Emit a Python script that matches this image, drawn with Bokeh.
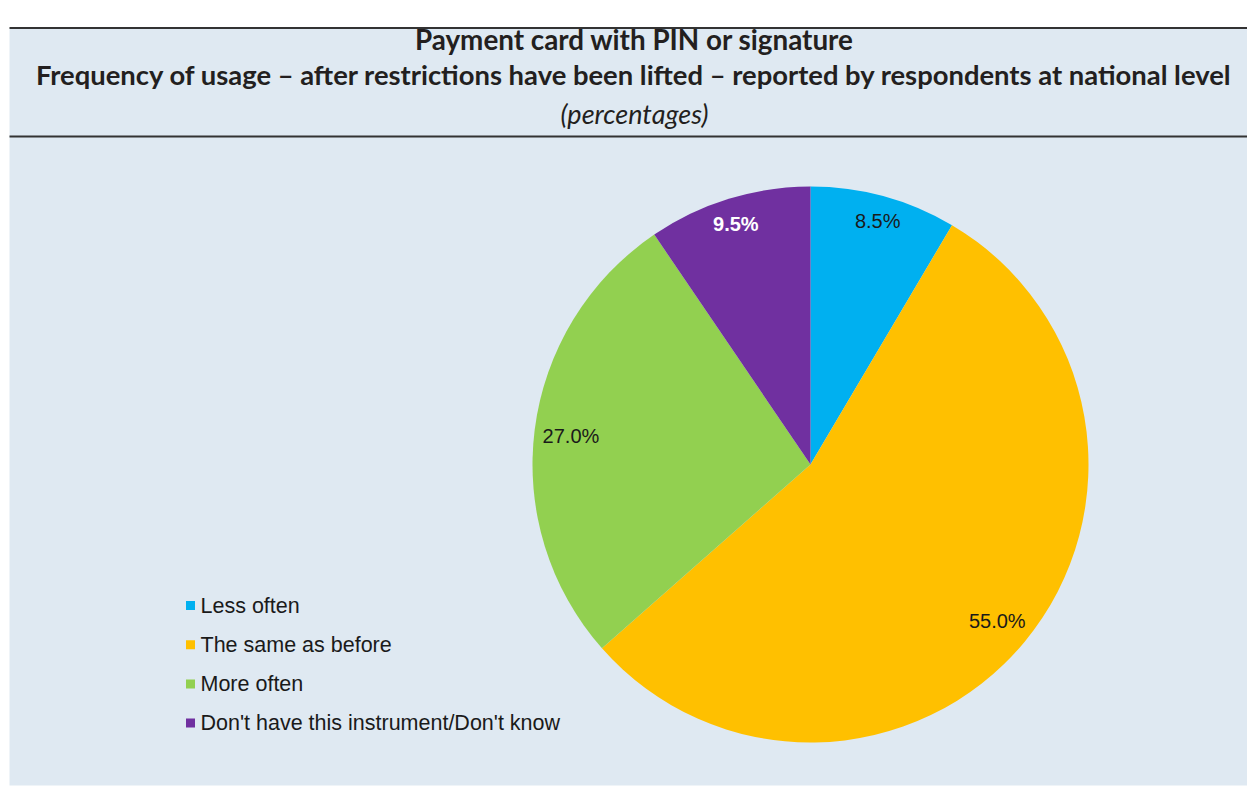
import math
from bokeh.plotting import figure
from bokeh.models import Range1d, ColumnDataSource
from bokeh.core.properties import value
from bokeh.embed import file_html
from bokeh.resources import INLINE

# ---- data ----
categories = ["Less often", "The same as before", "More often", "Don't have this instrument/Don't know"]
shares = [8.5, 55.0, 27.0, 9.5]
colors = ["#00b0f0", "#ffc000", "#92d050", "#7030a0"]
label_colors = ["#1a1a1a", "#1a1a1a", "#1a1a1a", "#ffffff"]
label_styles = ["normal", "normal", "normal", "bold"]
title_1 = "Payment card with PIN or signature"
title_2 = "Frequency of usage \u2013 after restrictions have been lifted \u2013 reported by respondents at national level"
subtitle = "(percentages)"

# ---- layout (screen pixel based) ----
W, H = 1247, 787
def sy(y):               # screen y -> data y
    return H - y

p = figure(width=W, height=H, output_backend="svg", toolbar_location=None,
           x_range=Range1d(0, W), y_range=Range1d(0, H),
           min_border=0, outline_line_color=None, border_fill_color="white",
           background_fill_color="white")
p.axis.visible = False
p.grid.visible = False

BG = "#dfe9f2"
p.quad(left=[9], right=[W], top=[sy(28)], bottom=[sy(785)], fill_color=BG, line_color=None)
p.line(x=[9, W], y=[sy(27.5), sy(27.5)], line_color="#333333", line_width=2)
p.line(x=[9, W], y=[sy(136), sy(136)], line_color="#333333", line_width=2)

cx_t = 634
p.text(x=[cx_t], y=[sy(39)], text=[title_1], text_font=value("Lato"), text_font_style="bold",
       text_font_size="27.8px", text_align="center", text_baseline="middle", text_color="#231f20")
p.text(x=[cx_t], y=[sy(74)], text=[title_2], text_font=value("Lato"), text_font_style="bold",
       text_font_size="27.4px", text_align="center", text_baseline="middle", text_color="#231f20")
p.text(x=[cx_t], y=[sy(113)], text=[subtitle], text_font=value("Lato"), text_font_style="italic",
       text_font_size="27px", text_align="center", text_baseline="middle", text_color="#231f20")

# ---- pie ----
CX, CY, R = 810, sy(464), 278
total = sum(shares)
starts, ends, lx, ly, labels = [], [], [], [], []
cum = 0.0
FS = 20
for s in shares:
    a0 = math.pi / 2 - 2 * math.pi * cum / total
    cum += s
    a1 = math.pi / 2 - 2 * math.pi * cum / total
    starts.append(a0)
    ends.append(a1)
    mid = (a0 + a1) / 2
    txt = f"{s:.1f}%"
    hw = len(txt) * 0.55 * FS / 2
    hh = 10
    rl = R - 8 - (abs(math.cos(mid)) * hw + abs(math.sin(mid)) * hh)
    lx.append(CX + rl * math.cos(mid))
    ly.append(CY + rl * math.sin(mid) - 2)
    labels.append(txt)

src = ColumnDataSource(dict(start=starts, end=ends, color=colors, lx=lx, ly=ly,
                            label=labels, lc=label_colors, ls=label_styles))
p.wedge(x=CX, y=CY, radius=R, start_angle="start", end_angle="end", direction="clock",
        fill_color="color", line_color=None, source=src)
p.text(x="lx", y="ly", text="label", text_color="lc", text_font_style="ls",
       text_font=value("Liberation Sans"), text_font_size=f"{FS}px",
       text_align="center", text_baseline="middle", source=src)

# ---- legend ----
leg_y = [sy(605 + 39.2 * i) for i in range(len(categories))]
p.rect(x=[190] * len(categories), y=leg_y, width=9, height=9, fill_color=colors, line_color=None)
p.text(x=[200] * len(categories), y=leg_y, text=categories, text_font=value("Liberation Sans"),
       text_font_size="21.5px", text_align="left", text_baseline="middle", text_color="#1a1a1a")

open("out.html", "w").write(file_html(p, INLINE))
